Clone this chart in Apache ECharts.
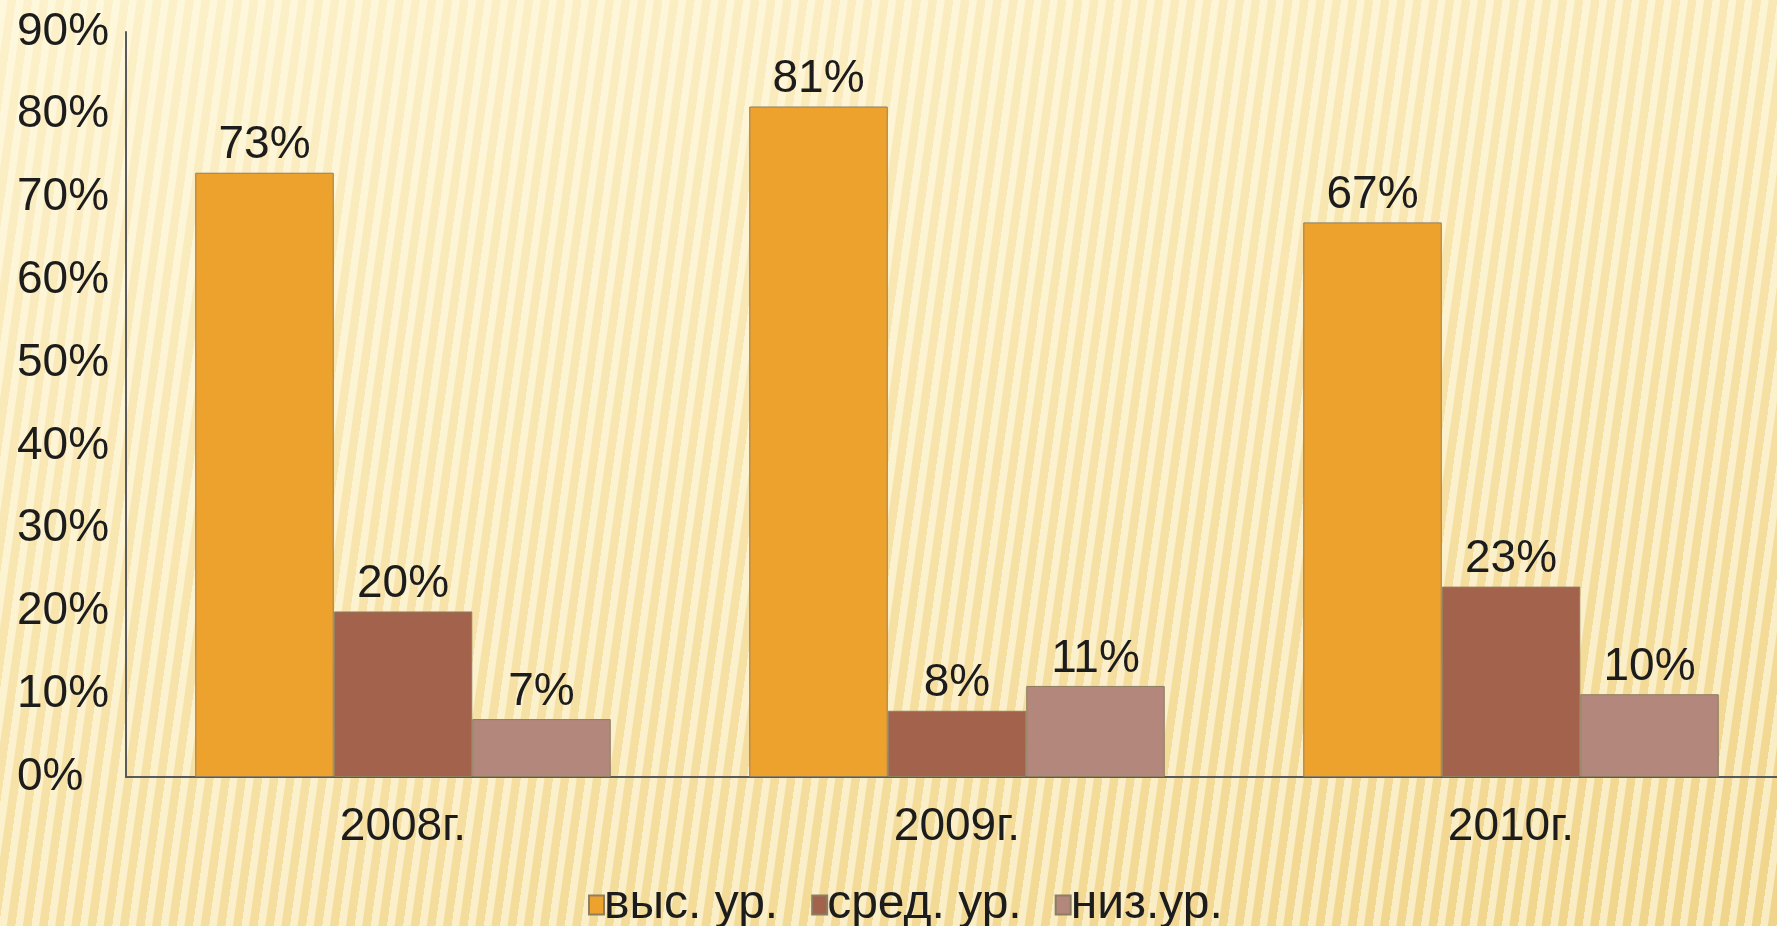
<!DOCTYPE html>
<html>
<head>
<meta charset="utf-8">
<script src="https://cdn.jsdelivr.net/npm/echarts@6/dist/echarts.min.js"></script>
<style>
html,body{margin:0;padding:0;width:1777px;height:926px;overflow:hidden;}
#bg{position:absolute;left:0;top:0;width:1777px;height:926px;
background:
 repeating-linear-gradient(98deg, rgba(255,252,232,0.6) 0px, rgba(255,252,232,0.6) 7px, rgba(255,255,255,0) 8px, rgba(255,255,255,0) 16px),
 linear-gradient(165deg, #FCF1CB 0%, #F8E5AE 45%, #F0D48A 100%);}
#chart{position:absolute;left:0;top:0;width:1800px;height:926px;}
</style>
</head>
<body>
<div id="bg"></div>
<div id="chart"></div>
<script>
const categories = ['2008г.', '2009г.', '2010г.'];
const seriesNames = ['выс. ур.', 'сред. ур.', 'низ.ур.'];
const high = [73, 81, 67];
const mid = [20, 8, 23];
const low = [7, 11, 10];
const yTicks = {min: 0, max: 90, interval: 10};

const colors = ['#EDA22E', '#A3624B', '#B3877B'];
const font = 'Liberation Sans, Arial, sans-serif';
const txt = '#1c1c1c';

const chart = echarts.init(document.getElementById('chart'), null, {renderer: 'canvas'});
function mk(name, data, i) {
  return {
    name: name, type: 'bar', data: data,
    barGap: '0%', barCategoryGap: '25%',
    itemStyle: {color: colors[i], borderColor: '#8d7d62', borderWidth: 1},
    label: {show: true, position: 'top', distance: 4, formatter: '{c}%',
      color: txt, fontSize: 46, fontFamily: font}
  };
}
chart.setOption({
  animation: false,
  backgroundColor: 'transparent',
  grid: {left: 126, right: 12, top: 32, bottom: 149, containLabel: false},
  legend: {
    data: seriesNames, top: 876, left: 583,
    itemWidth: 15, itemHeight: 19, itemGap: 33,
    icon: 'rect',
    textStyle: {color: txt, fontSize: 48, fontFamily: font, padding: [0,0,0,-5]}
  },
  xAxis: {
    type: 'category', data: categories,
    axisLine: {lineStyle: {color: '#5a5a5a', width: 2}},
    axisTick: {show: false},
    axisLabel: {color: txt, fontSize: 46, fontFamily: font, margin: 27}
  },
  yAxis: {
    type: 'value', min: yTicks.min, max: yTicks.max, interval: yTicks.interval,
    axisLine: {show: true, lineStyle: {color: '#5a5a5a', width: 2}},
    axisTick: {show: false},
    splitLine: {show: false},
    axisLabel: {color: txt, fontSize: 46, fontFamily: font, margin: 109, align: 'left', formatter: '{value}%'}
  },
  series: [mk(seriesNames[0], high, 0), mk(seriesNames[1], mid, 1), mk(seriesNames[2], low, 2)]
});
</script>
</body>
</html>
